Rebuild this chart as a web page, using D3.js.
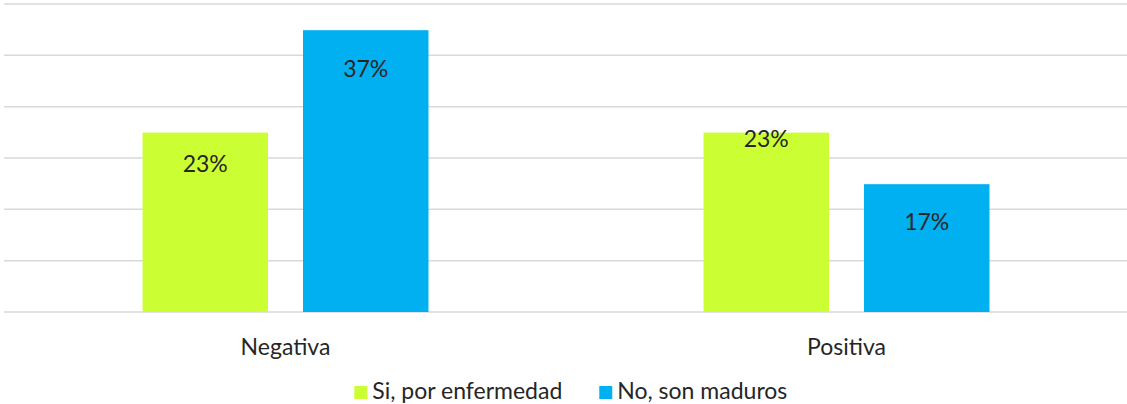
<!DOCTYPE html>
<html>
<head>
<meta charset="utf-8">
<script src="https://cdn.jsdelivr.net/npm/d3@7"></script>
<style>
    body { margin: 0; background: #fff; }
    svg { display: block; font-family: Lato, "Open Sans", sans-serif; }
</style>
</head>
<body>
<svg id="chart"></svg>
<script>
    // data
    const categories = ["Negativa", "Positiva"];
    const seriesNames = ["Si, por enfermedad", "No, son maduros"];
    const siValues = [0.233, 0.233];
    const noValues = [0.366, 0.166];
    const gridValues = [0, 0.0667, 0.1333, 0.2, 0.2667, 0.3333, 0.4];

    const colors = ["#ccff33", "#00b0f0"];

    const width = 1127, height = 404;
    const plotTop = 4, baseline = 312;

    const svg = d3.select("#chart")
        .attr("width", width)
        .attr("height", height);

    const rows = categories.map((c, i) => ({
        category: c,
        values: [siValues[i], noValues[i]]
    }));

    const x0 = d3.scaleBand()
        .domain(categories)
        .range([5, width]);

    const x1 = d3.scaleBand()
        .domain(d3.range(seriesNames.length))
        .range([0, x0.bandwidth()])
        .paddingInner(0.218)
        .paddingOuter(0.857);

    const y = d3.scaleLinear()
        .domain([0, 0.4])
        .range([baseline, plotTop]);

    // gridlines
    svg.append("g")
        .selectAll("line")
        .data(gridValues)
        .join("line")
        .attr("x1", 4)
        .attr("x2", width)
        .attr("y1", d => y(d))
        .attr("y2", d => y(d))
        .attr("stroke", "#d9d9d9")
        .attr("stroke-width", 1.5);

    // label nudges (the original has them dragged by hand)
    const labelDrop = [[31, 39], [6, 38]];
    const fmt = d3.format(".0%");

    const groups = svg.append("g")
        .selectAll("g")
        .data(rows)
        .join("g")
        .attr("transform", d => `translate(${x0(d.category)},0)`);

    groups.selectAll("rect")
        .data(d => d.values)
        .join("rect")
        .attr("x", (d, i) => x1(i))
        .attr("width", x1.bandwidth())
        .attr("y", d => y(d))
        .attr("height", d => y(0) - y(d))
        .attr("fill", (d, i) => colors[i]);

    groups.each(function (row, ci) {
        d3.select(this).selectAll("text")
            .data(row.values)
            .join("text")
            .attr("x", (d, i) => x1(i) + x1.bandwidth() / 2)
            .attr("y", (d, i) => y(d) + labelDrop[ci][i])
            .attr("dy", "0.35em")
            .attr("text-anchor", "middle")
            .attr("font-size", 23)
            .attr("fill", "#262626")
            .text(d => fmt(d));
    });

    // category labels
    svg.append("g")
        .selectAll("text")
        .data(categories)
        .join("text")
        .attr("x", d => x0(d) + x0.bandwidth() / 2)
        .attr("y", 355)
        .attr("text-anchor", "middle")
        .attr("font-size", 23)
        .attr("fill", "#262626")
        .text(d => d);

    // legend, centred under the plot
    const legend = svg.append("g");
    const items = legend.selectAll("g")
        .data(seriesNames)
        .join("g");

    items.append("rect")
        .attr("width", 13)
        .attr("height", 13)
        .attr("y", 386)
        .attr("fill", (d, i) => colors[i]);

    items.append("text")
        .attr("x", 18)
        .attr("y", 399)
        .attr("font-size", 23)
        .attr("fill", "#262626")
        .text(d => d);

    const widths = [];
    items.select("text").each(function () { widths.push(18 + this.getComputedTextLength()); });
    const gap = 37;
    const total = d3.sum(widths) + gap * (widths.length - 1);
    let cursor = 570.8 - total / 2;
    items.attr("transform", (d, i) => {
        const t = `translate(${cursor},0)`;
        cursor += widths[i] + gap;
        return t;
    });
</script>
</body>
</html>
